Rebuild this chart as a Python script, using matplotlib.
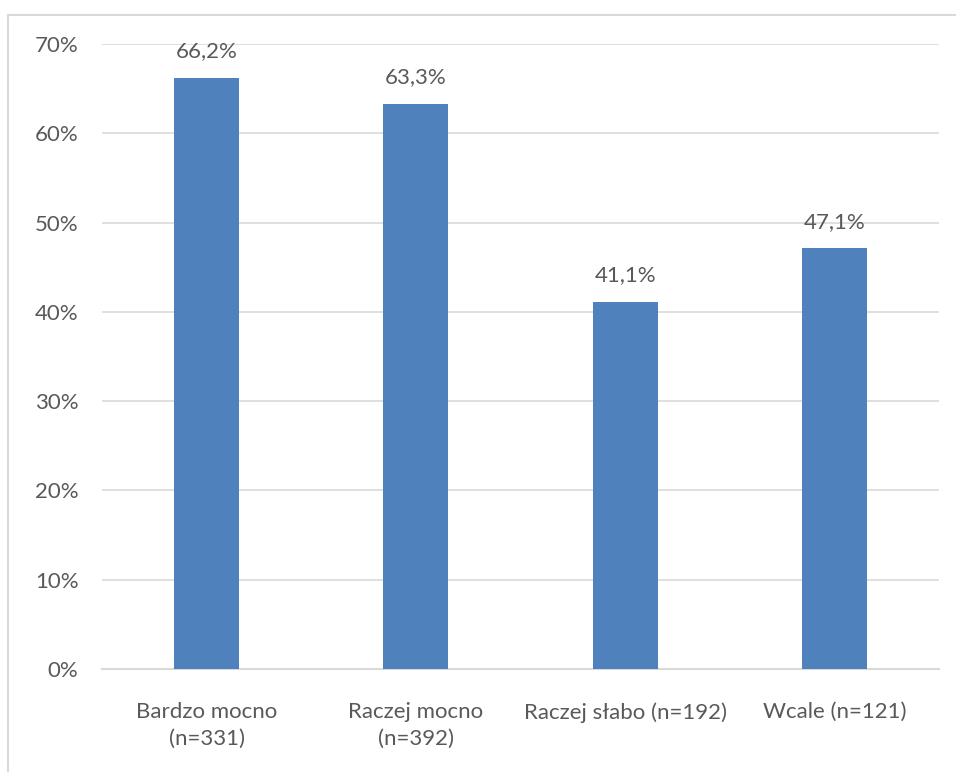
import matplotlib
matplotlib.use("Agg")
import matplotlib.pyplot as plt
from matplotlib.lines import Line2D

categories = ["Bardzo mocno\n(n=331)", "Raczej mocno\n(n=392)", "Raczej słabo (n=192)", "Wcale (n=121)"]
values = [66.2, 63.3, 41.1, 47.1]
value_labels = ["66,2%", "63,3%", "41,1%", "47,1%"]
yticks = [0, 10, 20, 30, 40, 50, 60, 70]

BAR = "#4f81bd"
TXT = "#595959"
GRID = "#d9d9d9"

plt.rcParams["font.family"] = ["Lato", "DejaVu Sans"]

fig = plt.figure(figsize=(9.56, 7.72), dpi=100)
ax = fig.add_axes([102 / 956, 103 / 772, 837 / 956, 625 / 772])

x = list(range(len(categories)))
ax.bar(x, values, width=0.31, color=BAR, zorder=3)
for xi, v, lab in zip(x, values, value_labels):
    ax.annotate(lab, (xi, v), xytext=(0, 12), textcoords="offset points",
                ha="center", va="bottom", fontsize=16, color=TXT)

ax.set_xlim(-0.5, len(categories) - 0.5)
ax.set_ylim(0, 70)
ax.set_yticks(yticks)
ax.set_yticklabels([f"{t}%" for t in yticks])
ax.set_xticks(x)
ax.set_xticklabels(categories, linespacing=1.42)
ax.tick_params(axis="both", length=0, labelsize=16, colors=TXT)
ax.tick_params(axis="y", pad=17)
ax.tick_params(axis="x", pad=24)
ax.yaxis.grid(True, color=GRID, lw=1.2, zorder=0)
for s in ("top", "right", "left"):
    ax.spines[s].set_visible(False)
ax.spines["bottom"].set_color(GRID)
ax.spines["bottom"].set_linewidth(1.5)

# chart frame (top and left edges visible)
fig.add_artist(Line2D([8 / 956, 1], [1 - 15 / 772, 1 - 15 / 772], color=GRID, lw=1.5,
                      transform=fig.transFigure))
fig.add_artist(Line2D([8 / 956, 8 / 956], [0, 1 - 15 / 772], color=GRID, lw=1.5,
                      transform=fig.transFigure))

fig.savefig("out.png", dpi=100)
